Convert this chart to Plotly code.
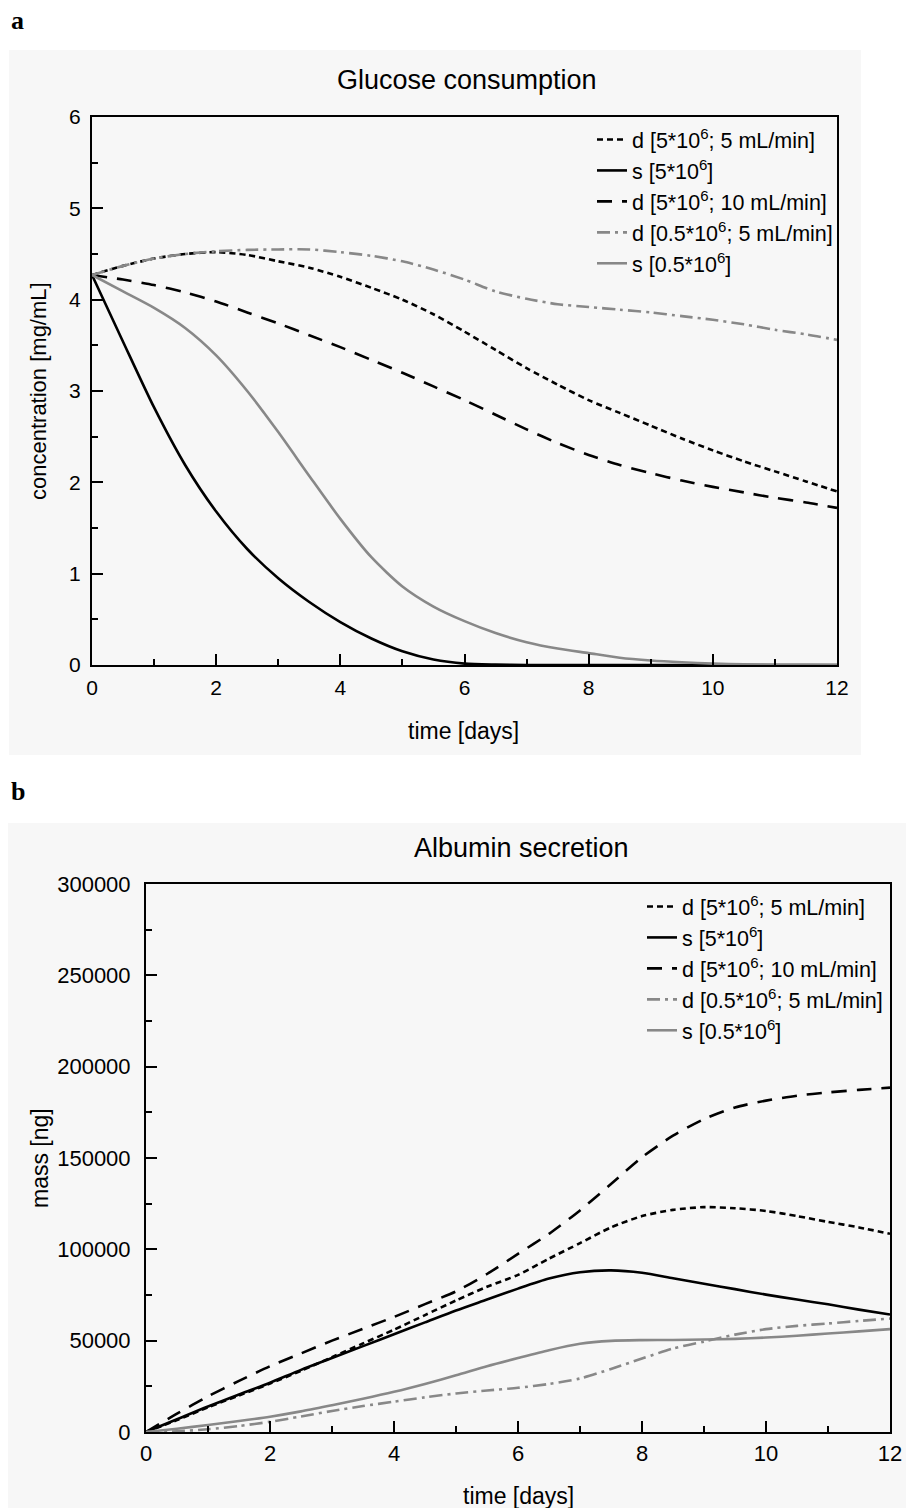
import plotly.graph_objects as go

# ---------------- data ----------------
time_days = [0, 0.5, 1, 1.5, 2, 2.5, 3, 3.5, 4, 4.5, 5, 5.5, 6,
             6.5, 7, 7.5, 8, 8.5, 9, 9.5, 10, 10.5, 11, 11.5, 12]

series_names = [
    "d [5*10<sup>6</sup>; 5 mL/min]",
    "s [5*10<sup>6</sup>]",
    "d [5*10<sup>6</sup>; 10 mL/min]",
    "d [0.5*10<sup>6</sup>; 5 mL/min]",
    "s [0.5*10<sup>6</sup>]",
]

# glucose concentration [mg/mL]
glc_d5_5 = [4.27, 4.37, 4.45, 4.50, 4.52, 4.49, 4.42, 4.35, 4.25, 4.13, 4.00, 3.84, 3.65,
            3.45, 3.25, 3.07, 2.90, 2.76, 2.62, 2.48, 2.35, 2.23, 2.12, 2.01, 1.90]
glc_s5 = [4.27, 3.54, 2.82, 2.19, 1.68, 1.27, 0.95, 0.69, 0.47, 0.29, 0.15, 0.06, 0.015,
          0.004, 0.0, 0.0, 0.0, 0.0, 0.0, 0.0, 0.0, 0.0, 0.0, 0.0, 0.0]
glc_d5_10 = [4.27, 4.22, 4.16, 4.08, 3.98, 3.86, 3.74, 3.61, 3.48, 3.34, 3.20, 3.05, 2.90,
             2.74, 2.58, 2.43, 2.30, 2.19, 2.10, 2.02, 1.95, 1.89, 1.83, 1.78, 1.72]
glc_d05_5 = [4.27, 4.37, 4.45, 4.50, 4.53, 4.545, 4.55, 4.55, 4.52, 4.48, 4.42, 4.33, 4.22,
             4.09, 4.01, 3.95, 3.92, 3.89, 3.86, 3.82, 3.78, 3.73, 3.67, 3.62, 3.56]
glc_s05 = [4.27, 4.09, 3.91, 3.69, 3.39, 3.00, 2.55, 2.07, 1.60, 1.18, 0.86, 0.64, 0.48,
           0.35, 0.25, 0.18, 0.13, 0.08, 0.05, 0.03, 0.015, 0.007, 0.003, 0.001, 0.0]

# albumin mass [ng]
alb_d5_5 = [0, 6500, 13500, 20000, 26500, 33500, 41000, 48500, 56000, 64000, 72000, 79500, 86000,
            94900, 103400, 112000, 118200, 121600, 123100, 122500, 121000, 118200, 115000, 112000, 108500]
alb_s5 = [0, 7000, 14000, 20500, 27000, 34000, 40500, 47000, 53500, 60000, 66500, 72500, 78500,
          84000, 87500, 88500, 87200, 84200, 81200, 78200, 75200, 72500, 69900, 67000, 64300]
alb_d5_10 = [0, 10000, 19500, 28000, 36000, 43000, 50000, 56500, 63000, 70000, 77000, 86500, 97500,
             108500, 121300, 135800, 150400, 162200, 171300, 177700, 181400, 184100, 185900, 187300, 188500]
alb_d05_5 = [0, 400, 1500, 3300, 5600, 8500, 11500, 14200, 16600, 19000, 21100, 22700, 24200,
             26300, 29300, 34500, 40200, 45700, 49500, 53300, 56300, 58100, 59400, 60800, 62100]
alb_s05 = [0, 1800, 3800, 6000, 8400, 11300, 14700, 18200, 22000, 26300, 31000, 36000, 40500,
           44800, 48300, 49900, 50300, 50400, 50600, 51000, 51700, 52700, 53900, 55100, 56300]

glucose = [glc_d5_5, glc_s5, glc_d5_10, glc_d05_5, glc_s05]
albumin = [alb_d5_5, alb_s5, alb_d5_10, alb_d05_5, alb_s05]

# ---------------- styles ----------------
BLACK = "#000000"
GREY = "#888888"
line_styles = [
    dict(color=BLACK, width=2.6, dash="6px,4px"),
    dict(color=BLACK, width=2.6, dash="solid"),
    dict(color=BLACK, width=2.6, dash="15px,10px"),
    dict(color=GREY, width=2.6, dash="13px,5px,3px,5px"),
    dict(color=GREY, width=2.6, dash="solid"),
]

FONT = "Liberation Sans, Arial, sans-serif"
SERIF = "Liberation Serif, Times New Roman, serif"

fig = go.Figure()

for name, ys, st in zip(series_names, glucose, line_styles):
    fig.add_trace(go.Scatter(
        x=time_days, y=ys, mode="lines", name=name,
        line=dict(shape="spline", smoothing=0.7, **st),
        xaxis="x", yaxis="y", legend="legend", legendgroup="a_" + name,
    ))

for name, ys, st in zip(series_names, albumin, line_styles):
    fig.add_trace(go.Scatter(
        x=time_days, y=ys, mode="lines", name=name,
        line=dict(shape="spline", smoothing=0.7, **st),
        xaxis="x2", yaxis="y2", legend="legend2", legendgroup="b_" + name,
    ))

W, H = 906, 1508


def px_x(p):
    return p / W


def px_y(p):
    return 1 - p / H


def axis_style(font_size, standoff, dtick, minor_dtick):
    return dict(
        showline=True, linecolor=BLACK, linewidth=2, mirror=True,
        ticks="inside", ticklen=11, tickwidth=2, tickcolor=BLACK,
        showgrid=False, zeroline=False, dtick=dtick, automargin=False,
        ticklabelstandoff=standoff,
        tickfont=dict(family=FONT, size=font_size, color=BLACK),
        minor=dict(dtick=minor_dtick, ticks="inside", ticklen=6, tickwidth=2,
                   tickcolor=BLACK, showgrid=False),
    )


legend_common = dict(
    font=dict(family=FONT, size=21.5, color=BLACK),
    bgcolor="rgba(0,0,0,0)", borderwidth=0,
    xanchor="left", yanchor="top",
    tracegroupgap=0, traceorder="grouped", itemwidth=30,
)

fig.update_layout(
    width=W, height=H,
    margin=dict(l=0, r=0, t=0, b=0, pad=0, autoexpand=False),
    paper_bgcolor="white",
    plot_bgcolor="rgba(0,0,0,0)",
    font=dict(family=FONT, color=BLACK),
    xaxis=dict(domain=[px_x(92), px_x(837)], range=[0, 12], anchor="y",
               **axis_style(21, 3, 2, 1)),
    yaxis=dict(domain=[px_y(665), px_y(117)], range=[0, 6], anchor="x",
               **axis_style(21, 5, 1, 0.5)),
    xaxis2=dict(domain=[px_x(146), px_x(890)], range=[0, 12], anchor="y2",
                **axis_style(22, 1, 2, 1)),
    yaxis2=dict(domain=[px_y(1432), px_y(884)], range=[0, 300000], anchor="x2",
                tickformat="d", **axis_style(22, 9, 50000, 25000)),
    legend=dict(x=px_x(592), y=px_y(119), **legend_common),
    legend2=dict(x=px_x(642), y=px_y(886), **legend_common),
    showlegend=True,
)

# light grey panel backgrounds
fig.add_shape(type="rect", xref="paper", yref="paper", layer="below",
              x0=px_x(9), x1=px_x(861), y0=px_y(755), y1=px_y(50),
              fillcolor="#f7f7f7", line_width=0)
fig.add_shape(type="rect", xref="paper", yref="paper", layer="below",
              x0=px_x(8), x1=1, y0=0, y1=px_y(823),
              fillcolor="#f7f7f7", line_width=0)

annotations = [
    # panel letters
    dict(text="<b>a</b>", x=px_x(9), y=px_y(21), xanchor="left", yanchor="middle",
         font=dict(family=SERIF, size=26)),
    dict(text="<b>b</b>", x=px_x(9), y=px_y(792), xanchor="left", yanchor="middle",
         font=dict(family=SERIF, size=26)),
    # panel titles
    dict(text="Glucose consumption", x=px_x(467), y=px_y(80), xanchor="center", yanchor="middle",
         font=dict(family=FONT, size=27)),
    dict(text="Albumin secretion", x=px_x(521), y=px_y(848), xanchor="center", yanchor="middle",
         font=dict(family=FONT, size=27)),
    # axis titles
    dict(text="time [days]", x=px_x(464), y=px_y(731), xanchor="center", yanchor="middle",
         font=dict(family=FONT, size=23)),
    dict(text="concentration [mg/mL]", x=px_x(38), y=px_y(391), xanchor="center", yanchor="middle",
         textangle=-90, font=dict(family=FONT, size=22)),
    dict(text="time [days]", x=px_x(518), y=px_y(1496), xanchor="center", yanchor="middle",
         font=dict(family=FONT, size=23)),
    dict(text="mass [ng]", x=px_x(40), y=px_y(1158), xanchor="center", yanchor="middle",
         textangle=-90, font=dict(family=FONT, size=23)),
]
for a in annotations:
    a.update(xref="paper", yref="paper", showarrow=False)
    a["font"]["color"] = BLACK
fig.update_layout(annotations=annotations)

# the page itself carries no margin so the figure fills the window exactly
fig.write_html("out.html", post_script="document.body.style.margin='0';")
